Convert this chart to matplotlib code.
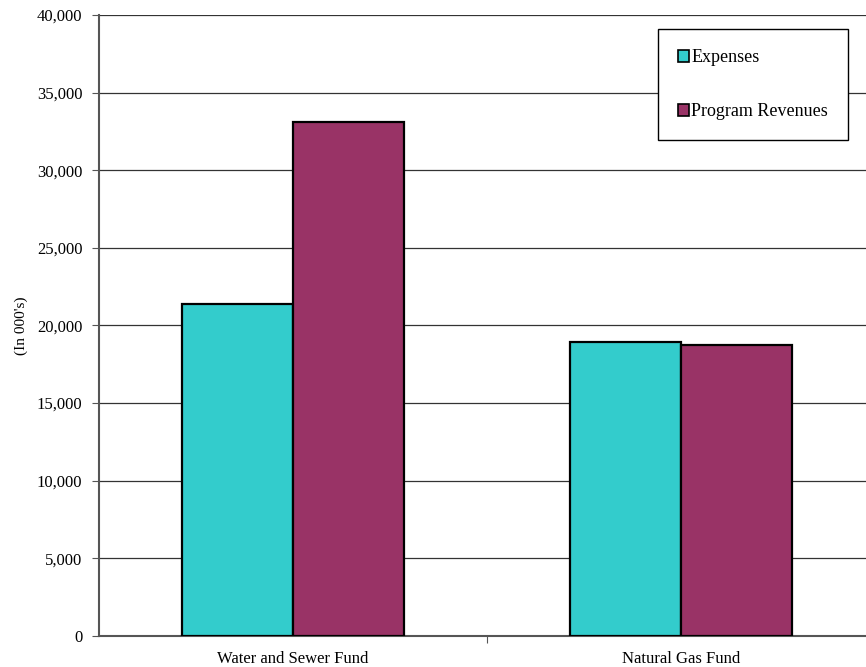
import matplotlib.pyplot as plt
import numpy as np
from matplotlib.ticker import FuncFormatter

plt.rcParams['font.family'] = ['Liberation Serif', 'DejaVu Serif']

# Data (in thousands)
funds = ['Water and Sewer Fund', 'Natural Gas Fund']
expenses = [21400, 18950]
revenues = [33100, 18750]
series_names = ['Expenses', 'Program Revenues']
colors = ['#33CCCC', '#993366']

fig = plt.figure(figsize=(8.66, 6.67), dpi=100)
ax = fig.add_axes([0.1143, 0.0465, 0.896, 0.931])

x = np.arange(len(funds))
w = 0.286
ax.bar(x - w / 2, expenses, w, color=colors[0], edgecolor='black', linewidth=1.6,
       label=series_names[0], zorder=3)
ax.bar(x + w / 2, revenues, w, color=colors[1], edgecolor='black', linewidth=1.6,
       label=series_names[1], zorder=3)

ax.set_xlim(-0.5, 1.5)
ax.set_ylim(0, 40000)
ax.set_yticks(np.arange(0, 40001, 5000))
ax.yaxis.set_major_formatter(FuncFormatter(lambda v, p: f'{int(v):,}'))
ax.grid(axis='y', color='#333333', linewidth=0.9, zorder=0)

# category labels centered, ticks between categories
ax.set_xticks([0.5])
ax.set_xticklabels([''])
ax.set_xticks(x, minor=True)
ax.set_xticklabels(funds, minor=True, fontsize=12)
ax.tick_params(axis='x', which='minor', length=0, pad=11)
ax.tick_params(axis='x', which='major', length=5, color='#555555')
ax.tick_params(axis='y', length=5, color='#555555', labelsize=12, pad=7)

for s in ['top', 'right']:
    ax.spines[s].set_visible(False)
ax.spines['left'].set_color('#555555')
ax.spines['left'].set_linewidth(1.5)
ax.spines['bottom'].set_color('#555555')
ax.spines['bottom'].set_linewidth(1.5)

ax.set_ylabel("(In 000's)", fontsize=11, labelpad=6)

leg = ax.legend(loc='upper right', bbox_to_anchor=(0.979, 0.9565),
                bbox_transform=fig.transFigure, fontsize=13,
                frameon=True, fancybox=False, edgecolor='black', framealpha=1,
                handlelength=0.65, handleheight=0.65, handletextpad=0.1,
                labelspacing=2.05, borderpad=1.1, borderaxespad=0)
leg.get_frame().set_linewidth(1.0)
for h in leg.legend_handles:
    h.set_linewidth(1.2)

fig.savefig('out.png', dpi=100)
